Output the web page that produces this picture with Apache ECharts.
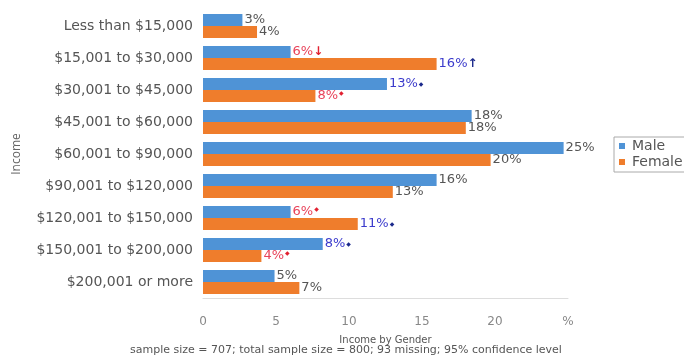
<!DOCTYPE html>
<html>
<head>
<meta charset="UTF-8">
<title>Income by Gender</title>
<script src="https://cdn.jsdelivr.net/npm/echarts@6/dist/echarts.min.js"></script>
</head>
<body style="margin:0">
<div id="chart" style="width:684px;height:361px"></div>
<script>
var categories = ['Less than $15,000', '$15,001 to $30,000', '$30,001 to $45,000', '$45,001 to $60,000',
    '$60,001 to $90,000', '$90,001 to $120,000', '$120,001 to $150,000', '$150,001 to $200,000', '$200,001 or more'];
var maleValues = [2.7, 6.0, 12.6, 18.4, 24.7, 16.0, 6.0, 8.2, 4.9];
var femaleValues = [3.7, 16.0, 7.7, 18.0, 19.7, 13.0, 10.6, 4.0, 6.6];
// significance flags: up/down, 2 = strong arrow, 1 = small mark
var maleSig = ['', 'down2', 'up1', '', '', '', 'down1', 'up1', ''];
var femaleSig = ['', 'up2', 'down1', '', '', '', 'up1', 'down1', ''];
var xTicks = [0, 5, 10, 15, 20, '%'];

var font = '"DejaVu Sans", sans-serif';

function makeLabel(sig) {
    return function (p) {
        var txt = Math.round(p.value) + '%';
        var s = sig[p.dataIndex];
        if (!s) return '{n|' + txt + '}';
        var dir = s.slice(0, -1) === 'up' ? 'u' : 'd';
        var strong = s.slice(-1) === '2';
        var mark = strong ? (dir === 'u' ? '↑' : '↓') : '◆';
        return '{' + dir + '|' + txt + '}{' + dir + (strong ? 'b' : 's') + '|' + mark + '}';
    };
}

var labelRich = {
    n: { color: '#555', fontSize: 13, fontFamily: font },
    u: { color: '#3b3bcc', fontSize: 13, fontFamily: font },
    d: { color: '#e8435a', fontSize: 13, fontFamily: font },
    ub: { color: '#1c2a8c', fontSize: 12, fontWeight: 'bold', fontFamily: font },
    db: { color: '#e22030', fontSize: 12, fontWeight: 'bold', fontFamily: font },
    us: { color: '#1c2a8c', fontSize: 6, fontFamily: font, padding: [0, 0, 0, 1] },
    ds: { color: '#e22030', fontSize: 6, fontFamily: font, padding: [0, 0, 6, 1] }
};

var chart = echarts.init(document.getElementById('chart'));
chart.setOption({
    animation: false,
    title: {
        text: 'sample size = 707; total sample size = 800; 93 missing; 95% confidence level',
        left: 125, bottom: 0,
        textStyle: { fontSize: 11, fontWeight: 'normal', color: '#555', fontFamily: font }
    },
    legend: {
        data: ['Male', 'Female'],
        orient: 'vertical',
        left: 614, top: 137,
        itemWidth: 6, itemHeight: 6, itemGap: 2,
        padding: [2, 6, 3, 5],
        borderColor: '#aaa', borderWidth: 1,
        icon: 'rect',
        textStyle: { fontSize: 14, color: '#555', fontFamily: font, padding: [0, 0, 0, 2] }
    },
    grid: { left: 203, right: 116, top: 10, bottom: 63, containLabel: false },
    xAxis: {
        type: 'value',
        min: 0, max: 25, interval: 5,
        name: 'Income by Gender',
        nameLocation: 'middle', nameGap: 37,
        nameTextStyle: { fontSize: 10, color: '#555', fontFamily: font },
        axisLine: { show: true, lineStyle: { color: '#ddd' } },
        axisTick: { show: false },
        splitLine: { show: false },
        axisLabel: {
            margin: 18, fontSize: 12, color: '#888', fontFamily: font,
            formatter: function (v) { return xTicks[v / 5]; }
        }
    },
    yAxis: {
        type: 'category',
        data: categories,
        inverse: true,
        name: 'Income',
        nameLocation: 'middle', nameGap: 180,
        nameTextStyle: { fontSize: 12, color: '#666', fontFamily: '"Open Sans", sans-serif' },
        axisLine: { show: false },
        axisTick: { show: false },
        axisLabel: { margin: 10, fontSize: 14, color: '#555', fontFamily: font }
    },
    series: [
        {
            name: 'Male', type: 'bar', data: maleValues,
            barGap: '0%', barCategoryGap: '25%',
            itemStyle: { color: '#4f93d6' },
            label: { show: true, position: 'right', distance: 2, formatter: makeLabel(maleSig), rich: labelRich }
        },
        {
            name: 'Female', type: 'bar', data: femaleValues,
            itemStyle: { color: '#ef7d2c' },
            label: { show: true, position: 'right', distance: 2, formatter: makeLabel(femaleSig), rich: labelRich }
        }
    ]
});
</script>
</body>
</html>
